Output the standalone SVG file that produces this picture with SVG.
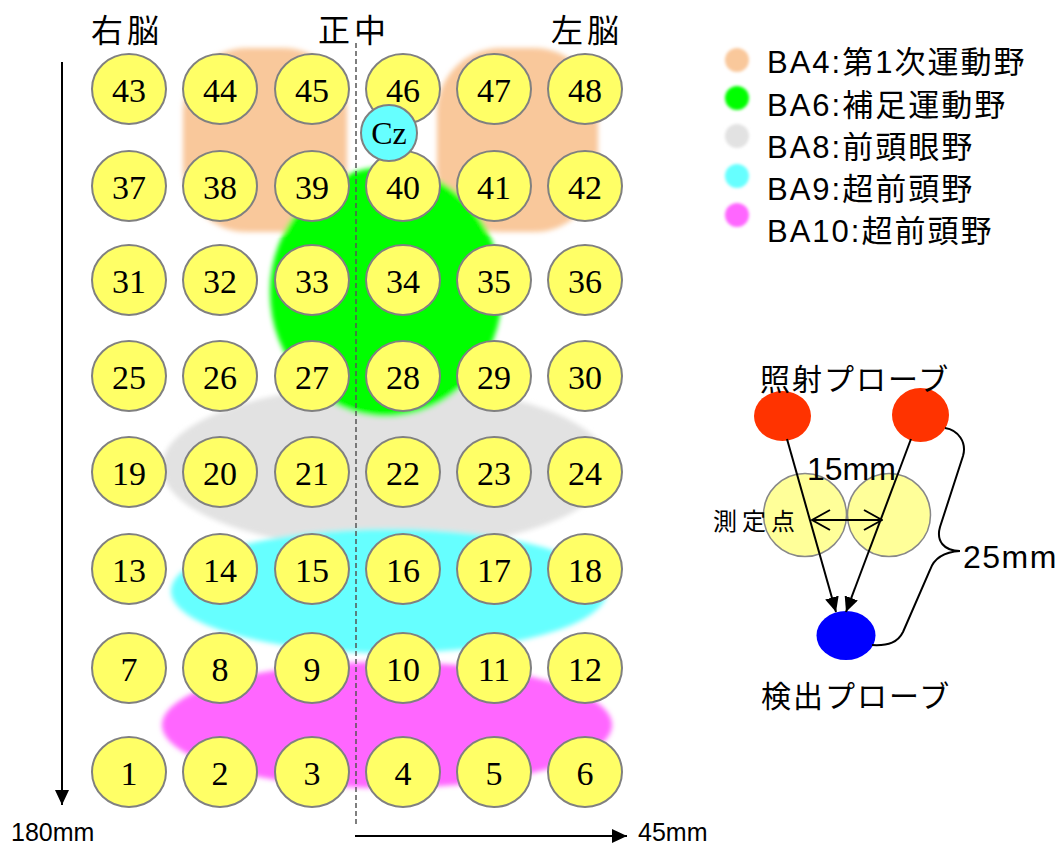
<svg xmlns="http://www.w3.org/2000/svg" width="1061" height="846" viewBox="0 0 1061 846">
<style>
.pt ellipse{fill:#FFFF66;stroke:#808080;stroke-width:2}
.pt text{font-family:"Liberation Serif",serif;font-size:34px;text-anchor:middle;fill:#000}
.hd{font-family:"Noto Sans CJK JP","Liberation Sans",sans-serif;font-size:32px;letter-spacing:4px;fill:#000}
.lg{font-family:"Liberation Sans","Noto Sans CJK JP",sans-serif;font-size:31px;letter-spacing:2px;fill:#000}
.sm{font-family:"Liberation Sans","Noto Sans CJK JP",sans-serif;fill:#000}
.jp{font-family:"Noto Sans CJK JP",sans-serif;fill:#000}
.ln{stroke:#000;stroke-width:2;fill:none}
</style>
<defs>
<filter id="soft" x="-10%" y="-10%" width="120%" height="120%"><feGaussianBlur stdDeviation="2.5"/></filter>
<filter id="soft1" x="-30%" y="-30%" width="160%" height="160%"><feGaussianBlur stdDeviation="1.5"/></filter>
<marker id="tri2" viewBox="0 0 15 14" refX="15" refY="7" markerWidth="15" markerHeight="14" markerUnits="userSpaceOnUse" orient="auto"><path d="M0,0 L15,7 L0,14 z" fill="#000"/></marker>
<marker id="vee" viewBox="0 0 20 22" refX="19" refY="11" markerWidth="20" markerHeight="22" markerUnits="userSpaceOnUse" orient="auto-start-reverse"><path d="M1,1 L19,11 L1,21" fill="none" stroke="#000" stroke-width="2"/></marker>
</defs>
<rect width="1061" height="846" fill="#fff"/>

<g id="areas" filter="url(#soft)">
<rect id="ba4-left" x="183" y="48" width="164" height="184" rx="64" ry="64" fill="#F9C89B"/>
<rect id="ba4-right" x="437" y="48" width="161" height="184" rx="64" ry="64" fill="#F9C89B"/>
<ellipse id="ba8" cx="386" cy="467" rx="224" ry="82" fill="#E2E2E2"/>
<ellipse id="ba6" cx="386" cy="292" rx="116" ry="125" fill="#00FF00"/>
<ellipse id="ba9" cx="389" cy="591" rx="218" ry="62" fill="#66FFFF"/>
<ellipse id="ba10" cx="387" cy="725" rx="225" ry="63" fill="#FF66FF"/>
</g>

<g id="headers">
<text class="hd" x="91" y="42">右脳</text>
<text class="hd" x="318" y="42">正中</text>
<text class="hd" x="551" y="42">左脳</text>
</g>

<g id="axes">
<line x1="356" y1="43" x2="356" y2="826" stroke="#555" stroke-width="1.5" stroke-dasharray="5,3"/>
<line x1="62" y1="62" x2="62" y2="805" stroke="#000" stroke-width="2" marker-end="url(#tri2)"/>
<line x1="355" y1="836" x2="627" y2="836" stroke="#000" stroke-width="2" marker-end="url(#tri2)"/>
<text class="sm" x="11" y="841" font-size="25">180mm</text>
<text class="sm" x="638" y="841" font-size="25">45mm</text>
</g>

<g id="points">
<g id="p43" class="pt"><ellipse cx="129" cy="89" rx="37" ry="35"/><text x="129" y="101.5">43</text></g>
<g id="p44" class="pt"><ellipse cx="220" cy="89" rx="37" ry="35"/><text x="220" y="101.5">44</text></g>
<g id="p45" class="pt"><ellipse cx="312" cy="89" rx="37" ry="35"/><text x="312" y="101.5">45</text></g>
<g id="p46" class="pt"><ellipse cx="403" cy="89" rx="37" ry="35"/><text x="403" y="101.5">46</text></g>
<g id="p47" class="pt"><ellipse cx="494" cy="89" rx="37" ry="35"/><text x="494" y="101.5">47</text></g>
<g id="p48" class="pt"><ellipse cx="585" cy="89" rx="37" ry="35"/><text x="585" y="101.5">48</text></g>

<g id="p37" class="pt"><ellipse cx="129" cy="186" rx="37" ry="35"/><text x="129" y="198.5">37</text></g>
<g id="p38" class="pt"><ellipse cx="220" cy="186" rx="37" ry="35"/><text x="220" y="198.5">38</text></g>
<g id="p39" class="pt"><ellipse cx="312" cy="186" rx="37" ry="35"/><text x="312" y="198.5">39</text></g>
<g id="p40" class="pt"><ellipse cx="403" cy="186" rx="37" ry="35"/><text x="403" y="198.5">40</text></g>
<g id="p41" class="pt"><ellipse cx="494" cy="186" rx="37" ry="35"/><text x="494" y="198.5">41</text></g>
<g id="p42" class="pt"><ellipse cx="585" cy="186" rx="37" ry="35"/><text x="585" y="198.5">42</text></g>

<g id="p31" class="pt"><ellipse cx="129" cy="280" rx="37" ry="35"/><text x="129" y="292.5">31</text></g>
<g id="p32" class="pt"><ellipse cx="220" cy="280" rx="37" ry="35"/><text x="220" y="292.5">32</text></g>
<g id="p33" class="pt"><ellipse cx="312" cy="280" rx="37" ry="35"/><text x="312" y="292.5">33</text></g>
<g id="p34" class="pt"><ellipse cx="403" cy="280" rx="37" ry="35"/><text x="403" y="292.5">34</text></g>
<g id="p35" class="pt"><ellipse cx="494" cy="280" rx="37" ry="35"/><text x="494" y="292.5">35</text></g>
<g id="p36" class="pt"><ellipse cx="585" cy="280" rx="37" ry="35"/><text x="585" y="292.5">36</text></g>

<g id="p25" class="pt"><ellipse cx="129" cy="376" rx="37" ry="35"/><text x="129" y="388.5">25</text></g>
<g id="p26" class="pt"><ellipse cx="220" cy="376" rx="37" ry="35"/><text x="220" y="388.5">26</text></g>
<g id="p27" class="pt"><ellipse cx="312" cy="376" rx="37" ry="35"/><text x="312" y="388.5">27</text></g>
<g id="p28" class="pt"><ellipse cx="403" cy="376" rx="37" ry="35"/><text x="403" y="388.5">28</text></g>
<g id="p29" class="pt"><ellipse cx="494" cy="376" rx="37" ry="35"/><text x="494" y="388.5">29</text></g>
<g id="p30" class="pt"><ellipse cx="585" cy="376" rx="37" ry="35"/><text x="585" y="388.5">30</text></g>

<g id="p19" class="pt"><ellipse cx="129" cy="472" rx="37" ry="35"/><text x="129" y="484.5">19</text></g>
<g id="p20" class="pt"><ellipse cx="220" cy="472" rx="37" ry="35"/><text x="220" y="484.5">20</text></g>
<g id="p21" class="pt"><ellipse cx="312" cy="472" rx="37" ry="35"/><text x="312" y="484.5">21</text></g>
<g id="p22" class="pt"><ellipse cx="403" cy="472" rx="37" ry="35"/><text x="403" y="484.5">22</text></g>
<g id="p23" class="pt"><ellipse cx="494" cy="472" rx="37" ry="35"/><text x="494" y="484.5">23</text></g>
<g id="p24" class="pt"><ellipse cx="585" cy="472" rx="37" ry="35"/><text x="585" y="484.5">24</text></g>

<g id="p13" class="pt"><ellipse cx="129" cy="569" rx="37" ry="35"/><text x="129" y="581.5">13</text></g>
<g id="p14" class="pt"><ellipse cx="220" cy="569" rx="37" ry="35"/><text x="220" y="581.5">14</text></g>
<g id="p15" class="pt"><ellipse cx="312" cy="569" rx="37" ry="35"/><text x="312" y="581.5">15</text></g>
<g id="p16" class="pt"><ellipse cx="403" cy="569" rx="37" ry="35"/><text x="403" y="581.5">16</text></g>
<g id="p17" class="pt"><ellipse cx="494" cy="569" rx="37" ry="35"/><text x="494" y="581.5">17</text></g>
<g id="p18" class="pt"><ellipse cx="585" cy="569" rx="37" ry="35"/><text x="585" y="581.5">18</text></g>

<g id="p7" class="pt"><ellipse cx="129" cy="668" rx="37" ry="35"/><text x="129" y="680.5">7</text></g>
<g id="p8" class="pt"><ellipse cx="220" cy="668" rx="37" ry="35"/><text x="220" y="680.5">8</text></g>
<g id="p9" class="pt"><ellipse cx="312" cy="668" rx="37" ry="35"/><text x="312" y="680.5">9</text></g>
<g id="p10" class="pt"><ellipse cx="403" cy="668" rx="37" ry="35"/><text x="403" y="680.5">10</text></g>
<g id="p11" class="pt"><ellipse cx="494" cy="668" rx="37" ry="35"/><text x="494" y="680.5">11</text></g>
<g id="p12" class="pt"><ellipse cx="585" cy="668" rx="37" ry="35"/><text x="585" y="680.5">12</text></g>

<g id="p1" class="pt"><ellipse cx="129" cy="772" rx="37" ry="35"/><text x="129" y="784.5">1</text></g>
<g id="p2" class="pt"><ellipse cx="220" cy="772" rx="37" ry="35"/><text x="220" y="784.5">2</text></g>
<g id="p3" class="pt"><ellipse cx="312" cy="772" rx="37" ry="35"/><text x="312" y="784.5">3</text></g>
<g id="p4" class="pt"><ellipse cx="403" cy="772" rx="37" ry="35"/><text x="403" y="784.5">4</text></g>
<g id="p5" class="pt"><ellipse cx="494" cy="772" rx="37" ry="35"/><text x="494" y="784.5">5</text></g>
<g id="p6" class="pt"><ellipse cx="585" cy="772" rx="37" ry="35"/><text x="585" y="784.5">6</text></g>

<g id="cz" class="pt"><ellipse cx="389" cy="133" rx="28" ry="28" style="fill:#66FFFF"/><text x="389" y="144" style="font-size:32px">Cz</text></g>
</g>

<g id="legend">
<g filter="url(#soft1)">
<circle cx="737" cy="60" r="12" fill="#F9C89B"/>
<circle cx="737" cy="98" r="12" fill="#00FF00"/>
<circle cx="737" cy="136" r="12" fill="#E2E2E2"/>
<circle cx="737" cy="176" r="12" fill="#66FFFF"/>
<circle cx="737" cy="215" r="12" fill="#FF66FF"/>
</g>
<text class="lg" x="767" y="73">BA4:第1次運動野</text>
<text class="lg" x="767" y="116">BA6:補足運動野</text>
<text class="lg" x="767" y="158">BA8:前頭眼野</text>
<text class="lg" x="767" y="200">BA9:超前頭野</text>
<text class="lg" x="767" y="242">BA10:超前頭野</text>
</g>

<g id="probe-diagram">
<g id="meas-left"><circle cx="805" cy="515" r="41.5" fill="#FFFF99" stroke="#888" stroke-width="1.5"/></g>
<g id="meas-right"><circle cx="889" cy="515" r="41.5" fill="#FFFF99" stroke="#888" stroke-width="1.5"/></g>
<g id="src-left"><ellipse cx="782.5" cy="416" rx="28.5" ry="25" fill="#FF3300"/></g>
<g id="src-right"><ellipse cx="920.5" cy="415" rx="28.5" ry="27" fill="#FF3300"/></g>
<g id="detector"><ellipse cx="846" cy="635.5" rx="29.5" ry="24.5" fill="#0000FF"/></g>
<g id="probe-connectors">
<line class="ln" x1="787" y1="439" x2="836" y2="612" marker-end="url(#tri2)"/>
<line class="ln" x1="911" y1="439" x2="846" y2="612" marker-end="url(#tri2)"/>
<line class="ln" x1="812" y1="520" x2="882" y2="520" marker-start="url(#vee)" marker-end="url(#vee)"/>
<path class="ln" d="M945,428 C958,430 967,442 963,456 L940,527 C936,541 944,551 960,551"/>
<path class="ln" d="M960,551 C944,552 934,558 930,570 L903,632 C898,642 889,646 872,645"/>
</g>
<text class="jp" x="760" y="390" font-size="30" letter-spacing="2">照射プローブ</text>
<text class="jp" x="761" y="707" font-size="30" letter-spacing="2">検出プローブ</text>
<text class="jp" x="713" y="530" font-size="24" letter-spacing="5">測定点</text>
<text class="sm" x="807" y="480" font-size="32">15mm</text>
<text class="sm" x="963" y="568" font-size="32" letter-spacing="1.5">25mm</text>
</g>
</svg>
